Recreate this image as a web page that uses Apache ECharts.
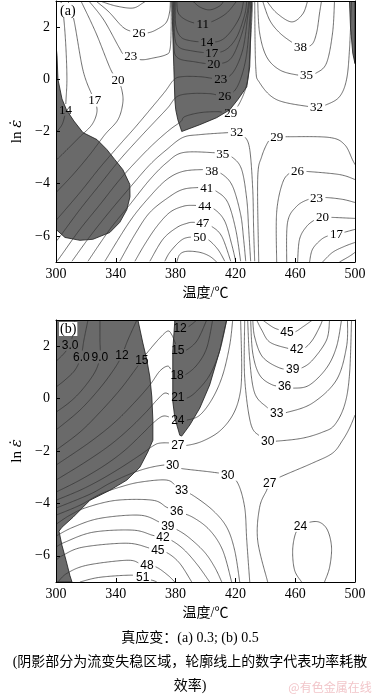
<!DOCTYPE html>
<html><head><meta charset="utf-8">
<script src="https://cdn.jsdelivr.net/npm/echarts@6/dist/echarts.min.js"></script>
<style>html,body{margin:0;padding:0;background:#fff}#c{width:379px;height:698px}</style>
</head><body><div id="c"></div>
<script>
// ---------------- axis ticks ----------------
const xTicks = [300, 340, 380, 420, 460, 500];
const yTicks = [-6, -4, -2, 0, 2];

// ---------------- panel (a): true strain 0.3 ----------------
// instability (shaded) regions, [temperature, ln strain rate]
const aShadeLeft = [[300,1.3],[300.7,0.9],[301.3,0],[304,-0.75],[307,-1.17],[312,-1.6],[318,-2.04],[327.4,-2.31],[334,-2.69],[339.4,-3.08],[344.7,-3.46],[349.4,-4.03],[349.5,-4.5],[347.4,-4.99],[342.7,-5.48],[336,-5.87],[324.7,-6.13],[316,-6.17],[306,-6.06],[300,-5.75]];
const aShadeMid = [[377.5,3],[378.1,1.78],[378.8,0.48],[379.5,-0.78],[380.1,-1.17],[381.5,-1.55],[384.1,-2.0],[396.2,-1.74],[407.5,-1.47],[416.2,-1.17],[421.6,-0.78],[427.6,-0.29],[429.6,0.48],[430.2,1.78],[430.9,3]];
const aShadeRight = [[496.3,3],[497,2],[498.5,1],[500,0.6],[500,3]];

// contour lines (power dissipation efficiency, %)
const a14 = [[303.3,3],[305.3,2.27],[306.7,1.13],[307.3,0],[306.7,-0.78],[306.3,-1.17],[306,-1.36],[304,-1.74],[300,-2.04]];
const a17 = [[308,3],[312,2.27],[318,0.36],[324,-0.59],[326,-0.8],[327.4,-1.24],[324,-1.74],[316,-2.2],[308,-2.66],[300,-3.11]];
const a20 = [[316.7,3],[326.7,1.78],[336.7,0.36],[341.4,-0.02],[344,-0.40],[344.7,-0.90],[341.4,-1.55],[332.7,-2.12],[322.7,-2.88],[311.4,-3.65],[300,-4.34]];
const a23 = [[322,3],[332,2.27],[342,1.24],[345.4,0.94],[350,0.9],[356.8,0.75],[365.4,0.82],[373.5,0.94],[376.2,1.13],[377,1.89],[377,3]];
const a26 = [[326.7,3],[335.4,2.58],[344.7,2.0],[351.4,1.82],[356,1.78],[361.4,1.78],[366.8,1.89],[373.5,2.16],[376,2.58],[376.5,3]];
const a29 = [[329.4,3],[340,2.81],[351.4,2.73],[358,2.92],[360,3]];
const s8 = [[391.5,3],[396.2,2.77],[402.8,2.66],[409.5,2.81],[412.2,3]];
const s11 = [[380.8,3],[381.5,2.58],[384.8,2.35],[391,2.18],[398.2,2.12],[405.5,2.24],[414.2,2.54],[420.9,3]];
const s14 = [[379.8,3],[380.1,2.08],[383.5,1.62],[390.8,1.47],[400.8,1.43],[409.5,1.47],[416.2,1.78],[422.9,2.39],[425.5,3]];
const s17 = [[379.2,3],[379.3,1.70],[382.1,1.24],[390.8,1.09],[404.2,1.01],[413.5,1.13],[420.9,1.62],[426.2,2.47],[427.6,3]];
const s20 = [[378.6,3],[378.8,1.32],[381.5,0.82],[392.8,0.67],[405.5,0.59],[416.2,0.75],[422.9,1.51],[427.6,2.47],[428.9,3]];
const s23 = [[429.6,3],[428.2,2.39],[424.9,1.13],[418.2,0.25],[410.2,0.02],[396.2,0.10],[384.1,0.10],[378.8,-0.02],[372.8,-0.48],[362.8,-1.17],[352.8,-1.85],[342.7,-2.50],[329.4,-3.38],[316,-4.34],[300,-5.41]];
const s26 = [[430.2,3],[429.6,2.27],[426.9,0.75],[420.9,-0.32],[412.9,-0.63],[402.8,-0.55],[389.5,-0.55],[380.8,-0.67],[374.8,-1.09],[366.1,-1.62],[356.1,-2.23],[342.7,-3.08],[329.4,-4.03],[316,-4.99],[302.7,-6.02],[300,-6.21]];
const s29 = [[431.6,3],[430.2,1.51],[428.2,-0.02],[422.9,-0.90],[416.9,-1.28],[408.2,-1.24],[396.2,-1.28],[386.1,-1.43],[383.5,-1.62],[376.1,-1.93],[366.1,-2.43],[356.1,-3.0],[342.7,-3.84],[329.4,-4.80],[316,-5.75],[304,-6.71],[300.7,-6.97]];
const c32 = [[310.7,-6.97],[322.7,-6.02],[336,-5.06],[349.4,-4.15],[362.8,-3.27],[374.1,-2.69],[384.8,-2.23],[396.2,-2.12],[416.2,-2.04],[420.9,-2.04],[426.2,-2.20],[429.6,-2.69],[431.6,-4.22],[432.2,-5.75],[432.9,-6.97]];
const c35 = [[321.4,-6.97],[336,-5.75],[349.4,-4.80],[362.8,-3.84],[374.1,-3.19],[384.8,-2.81],[404.8,-2.81],[411.5,-2.88],[418.2,-3.0],[424.2,-3.46],[427.6,-4.60],[428.9,-5.75],[430.2,-6.97]];
const c38 = [[332.7,-6.97],[349.4,-5.44],[362.8,-4.49],[374.1,-3.84],[384.8,-3.53],[398.2,-3.46],[404.2,-3.50],[411.5,-3.65],[418.2,-4.11],[423.5,-5.18],[425.5,-6.13],[426.9,-6.97]];
const c41 = [[342.7,-6.97],[352.8,-5.94],[362.8,-5.10],[376.1,-4.49],[384.8,-4.22],[394.2,-4.15],[400.8,-4.18],[407.5,-4.30],[414.9,-4.72],[420.2,-5.75],[423.5,-6.97]];
const c44 = [[352.8,-6.97],[359.4,-6.32],[367.4,-5.64],[376.1,-5.10],[384.8,-4.87],[391.5,-4.83],[399.5,-4.87],[406.2,-4.99],[412.9,-5.44],[417.5,-6.32],[420.2,-6.97]];
const c47 = [[362.8,-6.97],[371.5,-6.13],[380.8,-5.68],[387.5,-5.52],[391.5,-5.48],[398.2,-5.52],[404.2,-5.64],[410.9,-6.02],[416.9,-6.97]];
const c50 = [[372.8,-6.97],[376.1,-6.63],[382.8,-6.21],[388.1,-6.06],[396.2,-6.06],[401.5,-6.13],[408.2,-6.51],[412.9,-6.97]];
const c53 = [[380.8,-7],[382.8,-6.71],[387.5,-6.59],[396.2,-6.63],[402.8,-6.78],[407.5,-7]];
const r29 = [[435.6,-7],[434.9,-3.84],[437.6,-2.96],[442.9,-2.31],[447.6,-2.23],[456.3,-2.20],[483,-2.23],[493,-2.50],[498.3,-3.08],[500,-3.27]];
const r26 = [[447.6,-7],[447.6,-5.10],[451.6,-3.96],[456.9,-3.57],[461.6,-3.53],[467.6,-3.53],[489.6,-3.65],[500,-3.84]];
const r23 = [[454.3,-7],[454.9,-5.48],[460.9,-4.87],[468.9,-4.60],[474.3,-4.57],[480.3,-4.53],[491.7,-4.60],[500,-4.72]];
const r20 = [[461.6,-7],[462.9,-6.13],[467.6,-5.64],[473.6,-5.37],[478.3,-5.29],[484.3,-5.29],[500,-5.33]];
const r17 = [[469.6,-7],[471.6,-6.51],[477.6,-6.13],[483,-5.98],[487.6,-5.94],[492.3,-5.87],[500,-5.75]];
const r14 = [[478.3,-7],[485,-6.63],[493,-6.40],[500,-6.25]];
const r11 = [[489.6,-7],[496.3,-6.78],[500,-6.63]];
const t32 = [[432.9,3],[433.6,0.48],[436.2,-0.13],[447.6,-0.78],[469.6,-1.05],[474.3,-1.05],[481,-0.97],[489.6,-0.67],[494.3,-0.02],[496.3,1.13],[497.7,3]];
const t35 = [[434.9,3],[436.2,1.78],[440.9,0.86],[449.6,0.36],[461,0.17],[467.6,0.17],[474.3,0.25],[481,0.63],[485,1.78],[486.3,3]];
const t38 = [[438.2,3],[442.9,2.27],[449.6,1.78],[458.3,1.40],[463.6,1.24],[470.9,1.32],[474.3,1.78],[476.3,2.54],[477.6,3]];
const t41 = [[440.9,3],[447.6,2.54],[457.6,2.2],[465,2.5],[468.3,3]];
// contour labels: [text, temperature, ln strain rate]
const aLabels = [
  ['14',306.3,-1.17],['17',326,-0.8],['20',341.4,-0.02],['23',350,0.9],['26',355.5,1.78],
  ['11',398.2,2.12],['14',400.8,1.43],['17',404.2,1.01],['20',405.5,0.59],['23',410.2,0.02],['26',412.9,-0.63],['29',416.9,-1.28],
  ['32',420.9,-2.04],['35',411.5,-2.88],['38',404.2,-3.50],['41',400.8,-4.18],['44',399.5,-4.87],['47',398.2,-5.52],['50',396.2,-6.06],
  ['29',447.6,-2.23],['26',461.6,-3.53],['23',474.3,-4.57],['20',478.3,-5.29],['17',487.6,-5.94],
  ['38',463.6,1.24],['35',467.6,0.17],['32',474.3,-1.05]
];

// ---------------- panel (b): true strain 0.5 ----------------
const bShadeLeft = [[300,3],[354.8,3],[358.1,2.12],[360.8,1.47],[362.8,0.82],[364.1,0.06],[364.8,-0.82],[364.8,-1.59],[361.4,-2.04],[356.1,-2.62],[347.4,-3.11],[336,-3.5],[322.7,-3.88],[311.4,-4.53],[304,-4.91],[302,-5.06],[304,-5.6],[306.7,-6.17],[309.3,-6.75],[310.7,-7],[300,-7]];
const bShadeMid = [[379.5,3],[378.1,1.82],[378.1,-0.1],[379.5,-0.74],[382.8,-1.40],[384.1,-1.43],[389.5,-1.01],[396.2,-0.36],[402.8,0.52],[409.5,1.82],[414.2,3]];

const b3 = [[312.7,3],[311.4,2.5],[309.3,2.05],[305.3,1.72],[300,1.42]];
const b6 = [[321.4,3],[318.7,2.24],[316.7,1.59],[312.7,1.09],[306,0.71],[300,0.44]];
const b9 = [[329.4,3],[329.4,2.24],[329.4,1.59],[326,1.01],[317.4,0.33],[309.3,-0.13],[300,-0.52]];
const b12 = [[354.1,3],[348.1,2.24],[344.1,1.66],[339.4,1.17],[329.4,0.40],[316,-0.44],[300,-1.20]];
const b12r = [[378.8,3],[380.8,2.81],[382.8,2.69],[388.1,2.73],[394.2,3]];
const b15 = [[300,-1.97],[316,-1.28],[329.4,-0.52],[342.7,0.33],[352.8,1.09],[357.4,1.47],[361.4,1.78],[369.4,2.31],[374.8,2.58],[377.5,2.43],[379.5,2.16],[381.5,1.85],[386.1,1.82],[394.2,2.20],[400.8,3.0]];
const b18 = [[300,-2.54],[322.7,-1.66],[339.4,-0.90],[352.8,-0.13],[362.8,0.52],[369.4,1.05],[374.8,1.24],[377.5,1.05],[380.8,0.9],[386.1,0.9],[394.2,1.28],[400.8,1.93],[404.8,3.0]];
const b21 = [[300,-3.11],[319.4,-2.43],[336,-1.78],[349.4,-1.13],[360.8,-0.48],[367.4,-0.06],[372.8,0.21],[377.5,0.10],[381.5,0.06],[387.5,0.02],[394.2,0.29],[402.8,0.90],[409.5,1.82],[414.2,3.0]];
const b24 = [[300,-3.57],[316,-3.11],[332.7,-2.54],[346.1,-1.97],[358.1,-1.32],[364.8,-0.94],[371.5,-0.67],[377.5,-0.74],[381.5,-0.82],[387.5,-0.82],[396.2,-0.63],[404.8,0.02],[411.5,0.90],[416.2,2.04],[418.2,3.0]];
const b27 = [[300,-3.88],[316,-3.50],[329.4,-3.11],[342.7,-2.66],[356.1,-2.16],[364.8,-1.81],[369.4,-1.70],[377.5,-1.70],[381.5,-1.78],[388.1,-1.78],[398.2,-1.62],[409.5,-1.24],[418.2,-0.63],[422.9,0.13],[424.2,1.09],[423.5,3.0]];
const b30 = [[300,-4.18],[322.7,-3.65],[336,-3.23],[349.4,-2.88],[360.8,-2.66],[371.5,-2.54],[378.1,-2.54],[382.8,-2.66],[404.8,-2.81],[414.9,-2.92],[421.6,-3.23],[426.2,-4.15],[427.6,-5.41],[429.6,-7.0]];
const b33 = [[300,-4.45],[316,-4.07],[329.4,-3.65],[342.7,-3.38],[356.1,-3.19],[374.1,-3.11],[380.8,-3.38],[384.1,-3.50],[391.5,-3.69],[404.8,-4.26],[414.2,-4.91],[419.5,-5.79],[422.9,-7.0]];
const b36 = [[300,-4.80],[309.3,-4.45],[320.7,-4.15],[340.7,-3.88],[364.8,-3.88],[374.1,-4.15],[380.8,-4.30],[391.5,-4.53],[402.8,-5.02],[411.5,-5.79],[417.5,-7.0]];
const b39 = [[300,-5.25],[311.4,-4.91],[329.4,-4.57],[356.1,-4.45],[369.4,-4.72],[374.8,-4.87],[381.5,-5.02],[389.5,-5.33],[399.5,-5.87],[406.2,-6.44],[410.9,-7.0]];
const b42 = [[300,-5.67],[306,-5.48],[324.7,-5.10],[351.4,-5.02],[364.8,-5.22],[371.5,-5.29],[378.1,-5.44],[386.1,-5.79],[394.8,-6.36],[402.8,-7.0]];
const b45 = [[300,-6.17],[304.7,-5.98],[318,-5.67],[347.4,-5.52],[362.8,-5.71],[368.1,-5.79],[374.8,-5.90],[382.8,-6.29],[390.8,-7.0]];
const b48 = [[301.3,-7],[307.3,-6.67],[320.7,-6.36],[347.4,-6.17],[356.1,-6.29],[360.8,-6.36],[367.4,-6.44],[374.8,-6.74],[379.5,-7.0]];
const b51 = [[316,-7],[329.4,-6.82],[351.4,-6.74],[358.1,-6.86],[364.8,-6.94],[367.4,-7]];
const u45 = [[438.2,3],[444.9,2.73],[449.6,2.62],[454.9,2.54],[459.6,2.54],[464.9,2.73],[471.6,3]];
const u42 = [[434.2,3],[437.6,2.62],[442.9,2.16],[454.3,1.93],[461,1.89],[466.3,1.93],[471.6,2.24],[476.3,2.73],[478.3,3]];
const u39 = [[431.6,3],[432.9,2.35],[438.2,1.59],[449.6,1.17],[458.3,1.13],[464.3,1.17],[471.6,1.47],[481,2.24],[483,3]];
const u36 = [[430.2,3],[431.6,1.74],[436.2,0.90],[444.9,0.52],[452.9,0.48],[459.6,0.40],[469.6,0.52],[481,1.17],[487.6,1.97],[491,3]];
const u33 = [[428.2,3],[429.6,1.47],[432.9,0.21],[440.9,-0.32],[447.6,-0.55],[454.9,-0.52],[471.6,-0.17],[487.6,0.71],[494.3,1.97],[495,3]];
const u30 = [[426.2,3],[426.2,0.82],[430.2,-0.94],[436.2,-1.43],[441.6,-1.62],[448.3,-1.62],[464.9,-1.51],[478.3,-1.28],[486.3,-1.01],[493,-0.25],[496.3,0.90],[497.7,3]];
const v27 = [[441.6,-7],[434.9,-5.41],[436.2,-4.15],[440.9,-3.50],[442.9,-3.23],[449.6,-3.0],[471.6,-2.46],[485,-2.08],[491.7,-1.59],[496.3,-1.13],[500,-0.63]];
const v24 = [[464.3,-7],[459.6,-6.55],[458.3,-5.79],[460.3,-5.14],[464.3,-4.87],[469.6,-4.72],[476.3,-4.72],[481.6,-5.02],[484.3,-5.67],[483,-6.44],[479.6,-7]];
const bLabels = [
  ['3.0',309.5,2.05],['6.0',317,1.59],['9.0',329.4,1.59],['12',344.1,1.66],['15',357.4,1.47],
  ['12',383,2.69],['15',381.5,1.85],['18',381,0.9],['21',381.5,0.06],['24',381.5,-0.82],['27',381.5,-1.78],
  ['30',378,-2.54],['30',414.9,-2.92],['27',442.9,-3.23],['24',463.5,-4.87],
  ['33',384,-3.5],['36',380.8,-4.3],['39',374.8,-4.87],['42',371.5,-5.29],['45',368.1,-5.79],['48',360.8,-6.36],['51',358,-6.82],
  ['45',454.5,2.52],['42',461,1.89],['39',458.3,1.13],['36',452.9,0.48],['33',447.6,-0.55],['30',441.6,-1.62]
];

// ---------------- build chart ----------------
const aLines = [a14,a17,a20,a23,a26,a29,s8,s11,s14,s17,s20,s23,s26,s29,c32,c35,c38,c41,c44,c47,c50,c53,r29,r26,r23,r20,r17,r14,r11,t32,t35,t38,t41];
const bLines = [b3,b6,b9,b12,b12r,b15,b18,b21,b24,b27,b30,b33,b36,b39,b42,b45,b48,b51,u45,u42,u39,u36,u33,u30,v27,v24];

const SHADE = '#6a6a6a';
const LINE = '#303030';
const SERIF = '"Liberation Serif", "Times New Roman", serif';
const SANS = '"Liberation Sans", Arial, sans-serif';
const CJK = '"Liberation Serif", "Noto Sans CJK SC", serif';

function smoothPts(p) {
  const out = [];
  for (let i = 0; i < p.length - 1; i++) {
    const p0 = p[Math.max(0, i - 1)], p1 = p[i], p2 = p[i + 1], p3 = p[Math.min(p.length - 1, i + 2)];
    const len = Math.hypot(p2[0] - p1[0], p2[1] - p1[1]);
    const n = Math.max(2, Math.ceil(len / 1.2));
    for (let k = 0; k < n; k++) {
      const t = k / n, t2 = t * t, t3 = t2 * t;
      out.push([0, 1].map(j => 0.5 * (2 * p1[j] + (-p0[j] + p2[j]) * t + (2 * p0[j] - 5 * p1[j] + 4 * p2[j] - p3[j]) * t2 + (-p0[j] + 3 * p1[j] - 3 * p2[j] + p3[j]) * t3)));
    }
  }
  out.push(p[p.length - 1]);
  return out;
}
function textW(s, fs, digitW) {
  let w = 0;
  for (const ch of s) w += (ch === '.' ? 0.27 : digitW) * fs;
  return w;
}
function shadeSeries(xi, yi, polys) {
  return {
    type: 'custom', xAxisIndex: xi, yAxisIndex: yi, z: 1, silent: true, clip: true,
    data: polys.map((p, i) => [p[0][0], p[0][1], i]),
    renderItem: (params, api) => ({
      type: 'polygon',
      shape: { points: polys[params.dataIndex].map(p => api.coord(p)) },
      style: { fill: SHADE, stroke: '#1a1a1a', lineWidth: 0.8 }
    })
  };
}
function lineSeries(xi, yi, lines, labels, fs, digitW) {
  return {
    type: 'custom', xAxisIndex: xi, yAxisIndex: yi, z: 3, silent: true, clip: true,
    data: lines.map((l, i) => [l[0][0], l[0][1], i]),
    renderItem: (params, api) => {
      const pts = lines[params.dataIndex].map(p => api.coord(p));
      const boxes = labels.map(lb => {
        const c = api.coord([lb[1], lb[2]]);
        const hw = textW(lb[0], fs, digitW) / 2 + 1.5;
        return [c[0] - hw, c[1] - 5.5, c[0] + hw, c[1] + 5.5];
      });
      const dense = smoothPts(pts);
      const runs = []; let cur = [];
      for (const q of dense) {
        const inside = boxes.some(b => q[0] > b[0] && q[0] < b[2] && q[1] > b[1] && q[1] < b[3]);
        if (inside) { if (cur.length > 1) runs.push(cur); cur = []; }
        else cur.push(q);
      }
      if (cur.length > 1) runs.push(cur);
      return {
        type: 'group',
        children: runs.map(r => ({ type: 'polyline', shape: { points: r }, style: { stroke: LINE, lineWidth: 0.7, fill: 'none' } }))
      };
    }
  };
}
function labelSeries(xi, yi, labels, font) {
  return {
    type: 'custom', xAxisIndex: xi, yAxisIndex: yi, z: 4, silent: true,
    data: labels.map(l => [l[1], l[2]]),
    renderItem: (params, api) => {
      const c = api.coord([api.value(0), api.value(1)]);
      return { type: 'text', x: c[0], y: c[1] + 0.5, style: { text: labels[params.dataIndex][0], fill: '#000', font: font, align: 'center', verticalAlign: 'middle' } };
    }
  };
}
function xAx(gi, main) {
  return {
    type: 'value', gridIndex: gi, position: main ? 'bottom' : 'top', min: 300, max: 500, z: 10,
    axisLine: { show: true, onZero: false, lineStyle: { color: '#000', width: 1 } },
    axisTick: { show: main, inside: true, length: 4, customValues: xTicks, lineStyle: { color: '#000' } },
    axisLabel: { show: main, customValues: xTicks, margin: 5, color: '#000', fontSize: 14, fontFamily: SERIF },
    splitLine: { show: false },
    name: main ? '温度/℃' : '', nameLocation: 'middle', nameGap: 24,
    nameTextStyle: { color: '#000', fontSize: 14, fontFamily: CJK }
  };
}
function yAx(gi, main) {
  return {
    type: 'value', gridIndex: gi, position: main ? 'left' : 'right', min: -7, max: 3, z: 10,
    axisLine: { show: true, onZero: false, lineStyle: { color: '#000', width: 1 } },
    axisTick: { show: main, inside: true, length: 4, customValues: yTicks, lineStyle: { color: '#000' } },
    axisLabel: { show: main, customValues: yTicks, margin: 6, color: '#000', fontSize: 14, fontFamily: SERIF,
      formatter: v => (v < 0 ? '\u2212' + (-v) : '' + v) },
    splitLine: { show: false },
    name: main ? 'ln {e|\u03b5\u0307}' : '', nameLocation: 'middle', nameGap: 24,
    nameTextStyle: { color: '#000', fontSize: 15, fontFamily: SERIF,
      rich: { e: { fontStyle: 'italic', fontSize: 15, fontFamily: '"DejaVu Serif", serif', color: '#000' } } }
  };
}

const chart = echarts.init(document.getElementById('c'), null, { renderer: 'canvas' });
chart.setOption({
  animation: false,
  backgroundColor: '#fff',
  grid: [
    { left: 56, top: 1, width: 299, height: 261, outerBoundsMode: 'none', containLabel: false },
    { left: 56, top: 320, width: 299, height: 262, outerBoundsMode: 'none', containLabel: false }
  ],
  xAxis: [xAx(0, true), xAx(0, false), xAx(1, true), xAx(1, false)],
  yAxis: [yAx(0, true), yAx(0, false), yAx(1, true), yAx(1, false)],
  series: [
    shadeSeries(0, 0, [aShadeLeft, aShadeMid, aShadeRight]),
    lineSeries(0, 0, aLines, aLabels, 13, 0.5),
    labelSeries(0, 0, aLabels, '13px ' + SERIF),
    shadeSeries(2, 2, [bShadeLeft, bShadeMid]),
    lineSeries(2, 2, bLines, bLabels, 12, 0.556),
    labelSeries(2, 2, bLabels, '12px ' + SANS)
  ],
  graphic: [
    { type: 'text', z: 100, x: 59, y: 3, style: { text: '(a)', font: '14px ' + SERIF, fill: '#000', backgroundColor: '#fff', padding: [1, 1, 0, 1] } },
    { type: 'text', z: 100, x: 59, y: 322, style: { text: '(b)', font: '14px ' + SERIF, fill: '#000', backgroundColor: '#fff', padding: [0, 1, 0, 1] } },
    { type: 'text', z: 100, x: 190, y: 638, style: { text: '真应变：(a) 0.3; (b) 0.5', font: '14px ' + CJK, fill: '#000', align: 'center', verticalAlign: 'middle' } },
    { type: 'text', z: 100, x: 190, y: 662, style: { text: '(阴影部分为流变失稳区域，轮廓线上的数字代表功率耗散', font: '14px ' + CJK, fill: '#000', align: 'center', verticalAlign: 'middle' } },
    { type: 'text', z: 100, x: 190, y: 686, style: { text: '效率)', font: '14px ' + CJK, fill: '#000', align: 'center', verticalAlign: 'middle' } },
    { type: 'text', z: 100, x: 330, y: 687, style: { text: '@有色金属在线', font: '12px "Noto Sans CJK SC", sans-serif', fill: '#f2c6ca', align: 'center', verticalAlign: 'middle' } }
  ]
});
</script></body></html>
